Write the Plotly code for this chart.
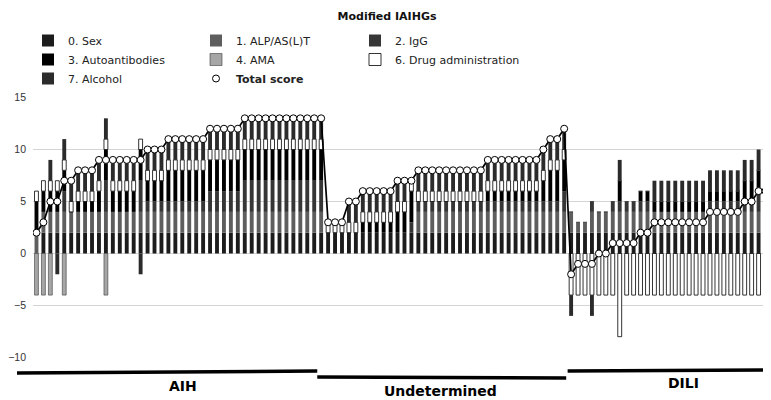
import plotly.graph_objects as go

# ---------------- data ----------------
groups = ["AIH", "Undetermined", "DILI"]

# AIH (42 patients)
aih_sex  = [0, 2, 2, 2, 2, 2, 2, 2, 2, 2, 2, 2, 2, 2, 2, 2, 2, 2, 2, 2, 2,
            2, 2, 2, 2, 2, 2, 2, 2, 2, 2, 2, 2, 2, 2, 2, 2, 2, 2, 2, 2, 2]
aih_alp  = [2, 2, 2, 2, 2, 2, 2, 2, 2, 2, 2, 2, 2, 2, 2, 2, 2, 2, 2, 2, 2,
            2, 2, 2, 2, 2, 2, 2, 2, 2, 2, 2, 2, 2, 2, 2, 2, 2, 2, 2, 2, 2]
aih_igg  = [0, 0, 0, 0, 2, 0, 0, 0, 0, 0, 3, 0, 0, 0, 0, 3, 1, 1, 1, 1, 1,
            1, 1, 1, 1, 2, 2, 2, 2, 2, 3, 3, 3, 3, 3, 3, 3, 3, 3, 3, 3, 3]
aih_aab  = [3, 2, 2, 2, 2, 0, 1, 1, 1, 2, 3, 2, 2, 2, 2, 3, 2, 2, 2, 3, 3,
            3, 3, 3, 3, 3, 3, 3, 3, 3, 3, 3, 3, 3, 3, 3, 3, 3, 3, 3, 3, 3]
aih_ama  = [-4, -4, -4, 0, -4, 0, 0, 0, 0, 0, -4, 0, 0, 0, 0, 0, 0, 0, 0, 0, 0,
            0, 0, 0, 0, 0, 0, 0, 0, 0, 0, 0, 0, 0, 0, 0, 0, 0, 0, 0, 0, 0]
aih_drug = [1, 1, 1, 1, 1, 1, 1, 1, 1, 1, 1, 1, 1, 1, 1, 1, 1, 1, 1, 1, 1,
            1, 1, 1, 1, 1, 1, 1, 1, 1, 1, 1, 1, 1, 1, 1, 1, 1, 1, 1, 1, 1]
aih_alc  = [0, 0, 2, -2, 2, 2, 2, 2, 2, 2, 2, 2, 2, 2, 2, -2, 2, 2, 2, 2, 2,
            2, 2, 2, 2, 2, 2, 2, 2, 2, 2, 2, 2, 2, 2, 2, 2, 2, 2, 2, 2, 2]
aih_total = [2, 3, 5, 5, 7, 7, 8, 8, 8, 9, 9, 9, 9, 9, 9, 9, 10, 10, 10, 11, 11,
             11, 11, 11, 11, 12, 12, 12, 12, 12, 13, 13, 13, 13, 13, 13, 13, 13, 13, 13, 13, 13]

# Undetermined (35 patients)
und_sex  = [2, 2, 2, 2, 2, 2, 2, 2, 2, 2, 2, 2, 2, 2, 2, 2, 2, 2,
            2, 2, 2, 2, 2, 2, 2, 2, 2, 2, 2, 2, 2, 2, 2, 2, 2]
und_alp  = [0, 0, 0, 0, 0, 0, 0, 0, 0, 0, 0, 0, 0, 2, 2, 2, 2, 2,
            2, 2, 2, 2, 2, 2, 2, 2, 2, 2, 2, 2, 2, 2, 2, 2, 2]
und_igg  = [0, 0, 0, 0, 0, 0, 0, 0, 0, 0, 0, 0, 1, 1, 1, 1, 1, 1,
            1, 1, 1, 1, 1, 1, 1, 1, 1, 1, 1, 1, 1, 1, 1, 1, 2]
und_aab  = [0, 0, 0, 0, 0, 1, 1, 1, 1, 1, 2, 2, 3, 0, 0, 0, 0, 0,
            0, 0, 0, 0, 0, 1, 1, 1, 1, 1, 1, 1, 1, 2, 3, 3, 3]
und_ama  = [0, 0, 0, 0, 0, 0, 0, 0, 0, 0, 0, 0, 0, 0, 0, 0, 0, 0,
            0, 0, 0, 0, 0, 0, 0, 0, 0, 0, 0, 0, 0, 0, 0, 0, 0]
und_drug = [1, 1, 1, 1, 1, 1, 1, 1, 1, 1, 1, 1, 1, 1, 1, 1, 1, 1,
            1, 1, 1, 1, 1, 1, 1, 1, 1, 1, 1, 1, 1, 1, 1, 1, 1]
und_alc  = [0, 0, 0, 2, 2, 2, 2, 2, 2, 2, 2, 2, 0, 2, 2, 2, 2, 2,
            2, 2, 2, 2, 2, 2, 2, 2, 2, 2, 2, 2, 2, 2, 2, 2, 2]
und_total = [3, 3, 3, 5, 5, 6, 6, 6, 6, 6, 7, 7, 7, 8, 8, 8, 8, 8,
             8, 8, 8, 8, 8, 9, 9, 9, 9, 9, 9, 9, 9, 10, 11, 11, 12]

# DILI (29 patients)
dili_sex  = [2, 2, 2, 2, 2, 2, 2, 2, 2, 2, 2, 2, 2, 2, 2,
             2, 2, 2, 2, 2, 2, 2, 2, 2, 2, 2, 2, 2, 2]
dili_alp  = [2, 1, 1, 2, 2, 2, 2, 2, 2, 2, 2, 2, 2, 2, 2,
             2, 2, 2, 2, 2, 2, 2, 2, 2, 2, 2, 2, 2, 2]
dili_igg  = [0, 0, 0, 1, 0, 0, 1, 1, 1, 1, 1, 1, 0, 0, 0,
             0, 0, 0, 0, 0, 1, 1, 1, 1, 1, 1, 1, 2, 2]
dili_aab  = [0, 0, 0, 0, 0, 0, 0, 2, 0, 0, 1, 1, 1, 1, 1,
             1, 1, 1, 1, 1, 1, 1, 1, 1, 1, 2, 2, 2, 2]
dili_ama  = [0, 0, 0, 0, 0, 0, 0, 0, 0, 0, 0, 0, 0, 0, 0,
             0, 0, 0, 0, 0, 0, 0, 0, 0, 0, 0, 0, 0, 0]
dili_drug = [-4, -4, -4, -4, -4, -4, -4, -8, -4, -4, -4, -4, -4, -4, -4,
             -4, -4, -4, -4, -4, -4, -4, -4, -4, -4, -4, -4, -4, -4]
dili_alc  = [-2, 0, 0, -2, 0, 0, 0, 2, 0, 0, 0, 0, 2, 2, 2,
             2, 2, 2, 2, 2, 2, 2, 2, 2, 2, 2, 2, 2, 2]
dili_total = [-2, -1, -1, -1, 0, 0, 1, 1, 1, 1, 2, 2, 3, 3, 3,
              3, 3, 3, 3, 3, 4, 4, 4, 4, 4, 5, 5, 6, 6]

series_names = ["0. Sex", "1. ALP/AS(L)T", "2. IgG", "3. Autoantibodies",
                "4. AMA", "6. Drug administration", "7. Alcohol"]

# ---------------- assemble ----------------
group_data = [
    (aih_sex, aih_alp, aih_igg, aih_aab, aih_ama, aih_drug, aih_alc, aih_total),
    (und_sex, und_alp, und_igg, und_aab, und_ama, und_drug, und_alc, und_total),
    (dili_sex, dili_alp, dili_igg, dili_aab, dili_ama, dili_drug, dili_alc, dili_total),
]
sizes = [len(g[0]) for g in group_data]
N = sum(sizes)
cats = []
for gname, g in zip(groups, group_data):
    cats += [f"{gname} {i + 1}" for i in range(len(g[0]))]
cols = [[] for _ in range(8)]
for g in group_data:
    for k in range(8):
        cols[k] += g[k]

styles = [
    dict(color="#1c1c1c", line=dict(width=0)),
    dict(color="#5e5e5e", line=dict(width=0)),
    dict(color="#363636", line=dict(width=0)),
    dict(color="#000000", line=dict(width=0)),
    dict(color="#a6a6a6", line=dict(width=0.6, color="#3a3a3a")),
    dict(color="#ffffff", line=dict(width=0.8, color="#000000")),
    dict(color="#2b2b2b", line=dict(width=0)),
]
legend_of = ["legend", "legend2", "legend3", "legend", "legend2", "legend3", "legend"]

fig = go.Figure()
for k in range(7):
    fig.add_trace(go.Bar(x=cats, y=cols[k], name=series_names[k], marker=styles[k],
                         legend=legend_of[k]))

fig.add_trace(go.Scatter(x=cats, y=cols[7], mode="lines", showlegend=False,
                         line=dict(color="#000000", width=1.7)))
fig.add_trace(go.Scatter(x=cats, y=cols[7], mode="markers", name="<b>Total score</b>",
                         legend="legend2",
                         marker=dict(symbol="circle", size=7, color="#ffffff",
                                     line=dict(color="#000000", width=1))))

# ---------------- layout ----------------
OFF = 8                      # page body margin of the generated html
W, H = 771 - OFF, 400 - OFF  # figure size so that the page fills the window
# plot area in window pixels: x 33..769, y 97..358
ml = 33 - OFF
mr = W - (769 - OFF)
mt = 97 - OFF
mb = H - (358 - OFF)
pw, ph = W - ml - mr, H - mt - mb

def px_x(px):
    return (px - OFF - ml) / pw

def px_y(py):
    return (H - mb - (py - OFF)) / ph

font_family = "DejaVu Sans, Verdana, sans-serif"
legend_common = dict(font=dict(family=font_family, size=11, color="#222222"),
                     bgcolor="rgba(0,0,0,0)", xanchor="left", yanchor="top",
                     traceorder="normal", itemwidth=30, tracegroupgap=0)

fig.update_layout(
    width=W, height=H,
    margin=dict(l=ml, r=mr, t=mt, b=mb, autoexpand=False),
    paper_bgcolor="#ffffff", plot_bgcolor="#ffffff",
    barmode="relative", bargap=0.44,
    font=dict(family=font_family, size=11, color="#222222"),
    title=dict(text="<b>Modified IAIHGs</b>", x=(387 - OFF) / W, xanchor="center",
               y=1 - (16 - OFF) / H, yanchor="middle",
               font=dict(family=font_family, size=11, color="#111111")),
    legend=dict(x=px_x(28), y=px_y(26), **legend_common),
    legend2=dict(x=px_x(196), y=px_y(26), **legend_common),
    legend3=dict(x=px_x(355), y=px_y(26), **legend_common),
    xaxis=dict(type="category", showticklabels=False, showgrid=False, ticks="",
               zeroline=False, showline=False, range=[-0.5, N - 0.5]),
    yaxis=dict(range=[-10.05, 15.05], tickvals=[-10, -5, 0, 5, 10, 15],
               showgrid=True, gridcolor="#d4d4d4", gridwidth=1, zeroline=False,
               showline=False, ticks="", ticklabelstandoff=6,
               tickfont=dict(family="Liberation Sans, Arial, sans-serif", size=10.5,
                             color="#333333")),
)

# group brackets below the axis, derived from group sizes
e1 = sizes[0] / N
e2 = (sizes[0] + sizes[1]) / N
brackets = [
    (px_x(17), px_y(373), e1 - 0.01, px_y(371)),
    (e1 - 0.01, px_y(377), e2 - 0.002, px_y(378)),
    (e2, px_y(371), 1.0, px_y(370)),
]
for x0, y0, x1, y1 in brackets:
    fig.add_shape(type="line", xref="paper", yref="paper", x0=x0, y0=y0, x1=x1, y1=y1,
                  line=dict(color="#000000", width=3.5))

label_pos = [(183, 386), (440, 391), (683, 383)]
for name, (lx, ly) in zip(groups, label_pos):
    fig.add_annotation(text=f"<b>{name}</b>", xref="paper", yref="paper",
                       x=px_x(lx), y=px_y(ly), xanchor="center", yanchor="middle",
                       showarrow=False,
                       font=dict(family=font_family, size=14, color="#000000"))

fig.write_html("out.html")
